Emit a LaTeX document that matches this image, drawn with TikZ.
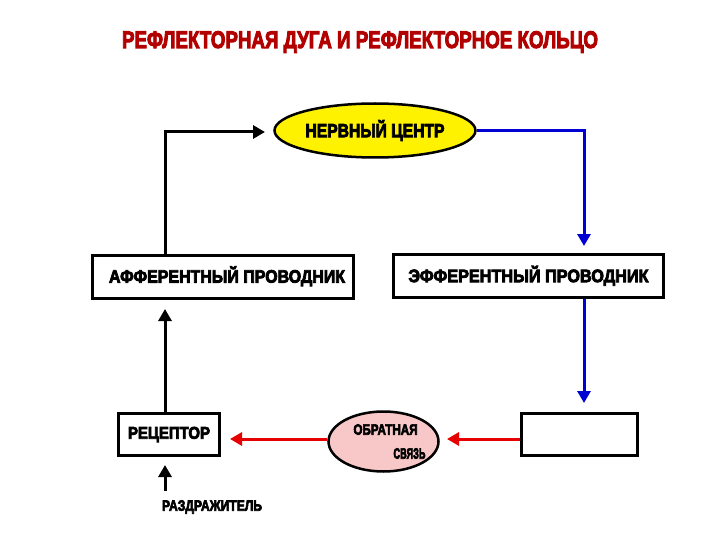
\documentclass[tikz,border=0pt]{standalone}
\usepackage{fontspec}
\newfontfamily\heavy{Liberation Sans}[BoldFeatures={FakeBold=4.5}]
\usetikzlibrary{arrows.meta,shapes.geometric}
\definecolor{titlered}{RGB}{178,0,0}
\definecolor{arrred}{RGB}{230,0,0}
\definecolor{arrblue}{RGB}{0,0,210}
\definecolor{pinkfill}{RGB}{248,200,200}
\newcommand{\fitw}[3]{\resizebox{#1}{\height}{\fontsize{#2}{#2}\selectfont\heavy\bfseries #3}}
\begin{document}
\begin{tikzpicture}[x=1pt,y=-1pt,
  box/.style={draw=black, line width=3pt, fill=white, inner sep=0pt},
  oval/.style={ellipse, draw=black, line width=2.5pt, inner sep=0pt},
  plain/.style={inner sep=0pt},
  tip/.style={-{Triangle[length=12pt,width=13pt]}},
  blk/.style={tip, draw=black, line width=3pt},
  blu/.style={tip, draw=arrblue, line width=3pt},
  rd/.style={tip, draw=arrred, line width=3pt}]
\useasboundingbox (0,0) rectangle (720,540);

% title
\node[plain, text=titlered] (title) at (360,42) {\fitw{476pt}{24}{РЕФЛЕКТОРНАЯ ДУГА И РЕФЛЕКТОРНОЕ КОЛЬЦО}};

% nodes
\node[oval, fill=yellow, minimum width=201pt, minimum height=54pt] (nc) at (375,130.5)
  {\fitw{139pt}{19}{НЕРВНЫЙ ЦЕНТР}};
\node[box, minimum width=261pt, minimum height=43pt] (aff) at (223,276.5)
  {\hspace*{8pt}\raisebox{4pt}{\fitw{236pt}{18}{АФФЕРЕНТНЫЙ ПРОВОДНИК}}};
\node[box, minimum width=270pt, minimum height=43pt] (eff) at (528.5,276)
  {\raisebox{4pt}{\fitw{240pt}{18}{ЭФФЕРЕНТНЫЙ ПРОВОДНИК}}};
\node[box, minimum width=101pt, minimum height=42pt] (rec) at (169,434.5)
  {\fitw{82pt}{17}{РЕЦЕПТОР}};
\node[box, minimum width=116pt, minimum height=42pt] (rb) at (579.5,434.5) {};
\node[oval, fill=pinkfill, minimum width=110pt, minimum height=60pt, align=left,
  font=\fontsize{15}{24}\selectfont] (fb) at (383.5,441.5)
  {\makebox[60pt][l]{\fitw{64pt}{15}{ОБРАТНАЯ}}\\
   \makebox[60pt][l]{\hspace*{40pt}\fitw{32pt}{15}{СВЯЗЬ}}};
\node[plain] (stim) at (212,507) {\fitw{100pt}{15}{РАЗДРАЖИТЕЛЬ}};

% coordinates of arrow tips and free ends
\coordinate (t1) at (265,132);
\coordinate (t2) at (584,246);
\coordinate (t3) at (584,403);
\coordinate (t4) at (447,439);
\coordinate (t5) at (230,439);
\coordinate (t6) at (165,309);
\coordinate (t7) at (165,465);
\coordinate (s0) at (165,491);

% connectors
\draw[blk] (165,0 |- aff.north) |- (t1);
\draw[blu] (nc.east) -| (t2);
\draw[blu] (584,0 |- eff.south) -- (t3);
\draw[rd] ([yshift=-4.5pt]rb.west) -- (t4);
\draw[rd] ([yshift=2.5pt]fb.west) -- (t5);
\draw[blk] (165,0 |- rec.north) -- (t6);
\draw[blk] (s0) -- (t7);
\end{tikzpicture}
\end{document}
